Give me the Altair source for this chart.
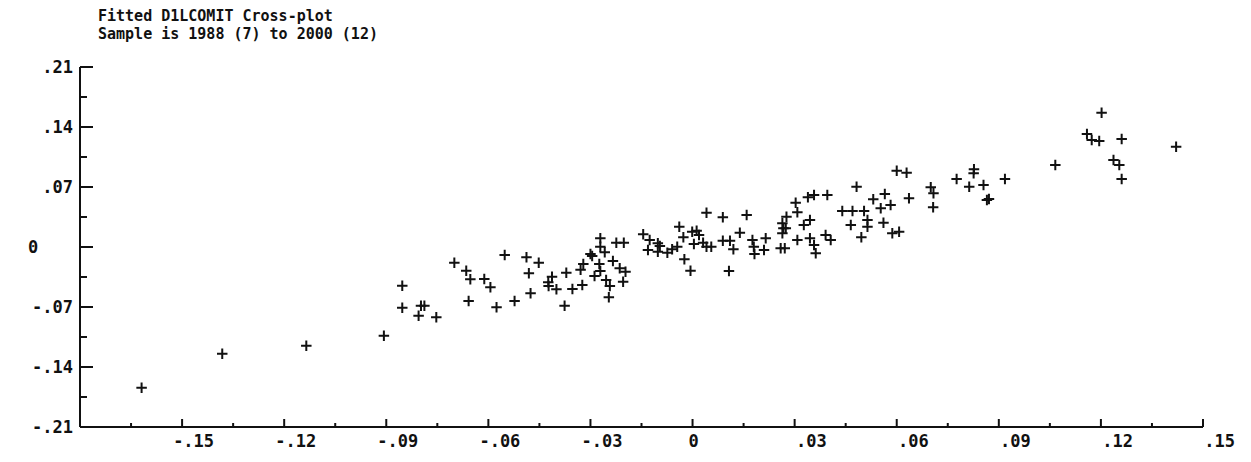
import altair as alt
import pandas as pd

# Fitted values (horizontal) against actual D1LCOMIT (vertical)
fitted = [
    -0.1619, -0.1382, -0.1135, -0.0907, -0.0853, -0.0853, -0.0798, -0.0788, -0.0805, -0.0753,
    -0.0700, -0.0665, -0.0653, -0.0658, -0.0612, -0.0594, -0.0576, -0.0552, -0.0523, -0.0488,
    -0.0452, -0.0481, -0.0476, -0.0413, -0.0424, -0.0423, -0.0400, -0.0371, -0.0376, -0.0353,
    -0.0324, -0.0321, -0.0329, -0.0300, -0.0295, -0.0271, -0.0271, -0.0258, -0.0274, -0.0271,
    -0.0288, -0.0254, -0.0243, -0.0246, -0.0234, -0.0224, -0.0202, -0.0214, -0.0197, -0.0204,
    -0.0145, -0.0126, -0.0131, -0.0102, -0.0096, -0.0102, -0.0074, -0.0060, -0.0045, -0.0039,
    -0.0027, -0.0024, -0.0006, -0.0001, 0.0012, 0.0004, 0.0019, 0.0031, 0.0041, 0.0055,
    0.0041, 0.0089, 0.0089, 0.0110, 0.0120, 0.0107, 0.0139, 0.0159, 0.0176, 0.0180,
    0.0182, 0.0210, 0.0215, 0.0259, 0.0271, 0.0264, 0.0267, 0.0274, 0.0264, 0.0276,
    0.0303, 0.0308, 0.0308, 0.0327, 0.0339, 0.0357, 0.0345, 0.0345, 0.0357, 0.0362,
    0.0396, 0.0391, 0.0406, 0.0440, 0.0470, 0.0504, 0.0465, 0.0482, 0.0496, 0.0514,
    0.0514, 0.0531, 0.0553, 0.0565, 0.0582, 0.0561, 0.0600, 0.0629, 0.0587, 0.0607,
    0.0636, 0.0700, 0.0708, 0.0707, 0.0776, 0.0813, 0.0827, 0.0826, 0.0855, 0.0865,
    0.0871, 0.0918, 0.1066, 0.1202, 0.1159, 0.1173, 0.1195, 0.1261, 0.1237, 0.1254,
    0.1261, 0.1421,
]
actual = [
    -0.1642, -0.1245, -0.1152, -0.1035, -0.0452, -0.0708, -0.0685, -0.0685, -0.0802, -0.0820,
    -0.0183, -0.0277, -0.0377, -0.0630, -0.0373, -0.0470, -0.0704, -0.0093, -0.0630, -0.0120,
    -0.0183, -0.0307, -0.0540, -0.0347, -0.0412, -0.0455, -0.0494, -0.0300, -0.0685, -0.0490,
    -0.0443, -0.0198, -0.0265, -0.0082, -0.0105, 0.0102, 0.0004, -0.0062, -0.0198, -0.0280,
    -0.0338, -0.0385, -0.0455, -0.0587, -0.0163, 0.0050, 0.0050, -0.0249, -0.0288, -0.0405,
    0.0148, 0.0082, -0.0035, 0.0043, 0.0012, -0.0055, -0.0066, -0.0027, 0.0004, 0.0237,
    0.0113, -0.0144, -0.0277, 0.0179, 0.0190, 0.0035, 0.0140, 0.0050, 0.0004, 0.0004,
    0.0400, 0.0347, 0.0074, 0.0074, -0.0027, -0.0280, 0.0167, 0.0373, 0.0082, 0.0004,
    -0.0082, -0.0035, 0.0102, -0.0015, -0.0015, 0.0160, 0.0218, 0.0218, 0.0277, 0.0353,
    0.0517, 0.0405, 0.0082, 0.0257, 0.0580, 0.0607, 0.0315, 0.0102, 0.0023, -0.0074,
    0.0607, 0.0140, 0.0082, 0.0420, 0.0420, 0.0420, 0.0257, 0.0704, 0.0113, 0.0315,
    0.0237, 0.0557, 0.0452, 0.0618, 0.0490, 0.0284, 0.0890, 0.0867, 0.0160, 0.0179,
    0.0568, 0.0697, 0.0627, 0.0463, 0.0793, 0.0704, 0.0907, 0.0860, 0.0723, 0.0548,
    0.0560, 0.0793, 0.0957, 0.1567, 0.1318, 0.1248, 0.1237, 0.1260, 0.1015, 0.0957,
    0.0793, 0.1170,
]

title_line1 = "Fitted D1LCOMIT Cross-plot"
title_line2 = "Sample is 1988 (7) to 2000 (12)"

x_major = [-0.15, -0.12, -0.09, -0.06, -0.03, 0.0, 0.03, 0.06, 0.09, 0.12, 0.15]
x_labels = ["-.15", "-.12", "-.09", "-.06", "-.03", "0", ".03", ".06", ".09", ".12", ".15"]
x_minor = [-0.165, -0.135, -0.105, -0.075, -0.045, -0.015, 0.015, 0.045, 0.075, 0.105, 0.135]
y_major = [-0.21, -0.14, -0.07, 0.0, 0.07, 0.14, 0.21]
y_labels = ["-.21", "-.14", "-.07", "0", ".07", ".14", ".21"]
y_minor = [-0.175, -0.105, -0.035, 0.035, 0.105, 0.175]

FONT = "DejaVu Sans Mono"
INK = "#111111"
W, H = 1123, 360

xscale = alt.Scale(domain=[-0.18, 0.15], nice=False, zero=False)
yscale = alt.Scale(domain=[-0.21, 0.21], nice=False, zero=False)

points = pd.DataFrame({"fitted": fitted, "actual": actual})
xlab = pd.DataFrame({"v": x_major, "label": x_labels})
ylab = pd.DataFrame({"v": y_major, "label": y_labels})
one = pd.DataFrame({"k": [0]})

plus = "M-1,0L1,0M0,-1L0,1"
scatter = alt.Chart(points).mark_point(
    shape=plus, size=110, filled=False, strokeWidth=2, color=INK, opacity=1
).encode(
    x=alt.X("fitted:Q", scale=xscale, axis=None),
    y=alt.Y("actual:Q", scale=yscale, axis=None),
)

# axis lines along the left and bottom edges
x_line = alt.Chart(one).mark_rule(color=INK, strokeWidth=2).encode(
    x=alt.value(0), x2=alt.value(W), y=alt.value(H)
)
y_line = alt.Chart(one).mark_rule(color=INK, strokeWidth=2).encode(
    x=alt.value(0), y=alt.value(0), y2=alt.value(H)
)

# tick marks drawn inward from both axis lines
def x_ticks(vals, length):
    return alt.Chart(pd.DataFrame({"v": vals})).mark_rule(color=INK, strokeWidth=2).encode(
        x=alt.X("v:Q", scale=xscale, axis=None),
        y=alt.value(H), y2=alt.value(H - length),
    )

def y_ticks(vals, length):
    return alt.Chart(pd.DataFrame({"v": vals})).mark_rule(color=INK, strokeWidth=2).encode(
        y=alt.Y("v:Q", scale=yscale, axis=None),
        x=alt.value(0), x2=alt.value(length),
    )

label_style = dict(font=FONT, fontWeight="bold", fontSize=17, color=INK)
title_style = dict(font=FONT, fontWeight="bold", fontSize=15, color=INK)

# tick labels: non-zero values are right-aligned, the zero label sits on its own
x_text = alt.Chart(xlab).transform_filter("datum.v != 0").mark_text(
    align="right", baseline="top", dx=32, **label_style
).encode(x=alt.X("v:Q", scale=xscale, axis=None), y=alt.value(H + 7), text="label:N")
x_zero = alt.Chart(xlab).transform_filter("datum.v == 0").mark_text(
    align="center", baseline="top", dx=1, **label_style
).encode(x=alt.X("v:Q", scale=xscale, axis=None), y=alt.value(H + 7), text="label:N")
y_text = alt.Chart(ylab).transform_filter("datum.v != 0").mark_text(
    align="right", baseline="middle", dy=1, **label_style
).encode(y=alt.Y("v:Q", scale=yscale, axis=None), x=alt.value(-7), text="label:N")
y_zero = alt.Chart(ylab).transform_filter("datum.v == 0").mark_text(
    align="left", baseline="middle", dy=1, **label_style
).encode(y=alt.Y("v:Q", scale=yscale, axis=None), x=alt.value(-52), text="label:N")

def title_text(line, y):
    return alt.Chart(pd.DataFrame({"t": [line]})).mark_text(
        align="left", baseline="alphabetic", **title_style
    ).encode(text="t:N", x=alt.value(18), y=alt.value(y))

chart = alt.layer(
    scatter,
    x_line, y_line,
    x_ticks(x_major, 8), x_ticks(x_minor, 4),
    y_ticks(y_major, 13), y_ticks(y_minor, 7),
    x_text, x_zero, y_text, y_zero,
    title_text(title_line1, -46), title_text(title_line2, -28),
).properties(
    width=W, height=H,
    autosize=alt.AutoSizeParams(type="none"),
    padding={"left": 80, "top": 67, "right": 48, "bottom": 35},
    background="white",
).configure_view(stroke=None)

chart.save("out.html", embed_options={"renderer": "svg", "actions": False})
